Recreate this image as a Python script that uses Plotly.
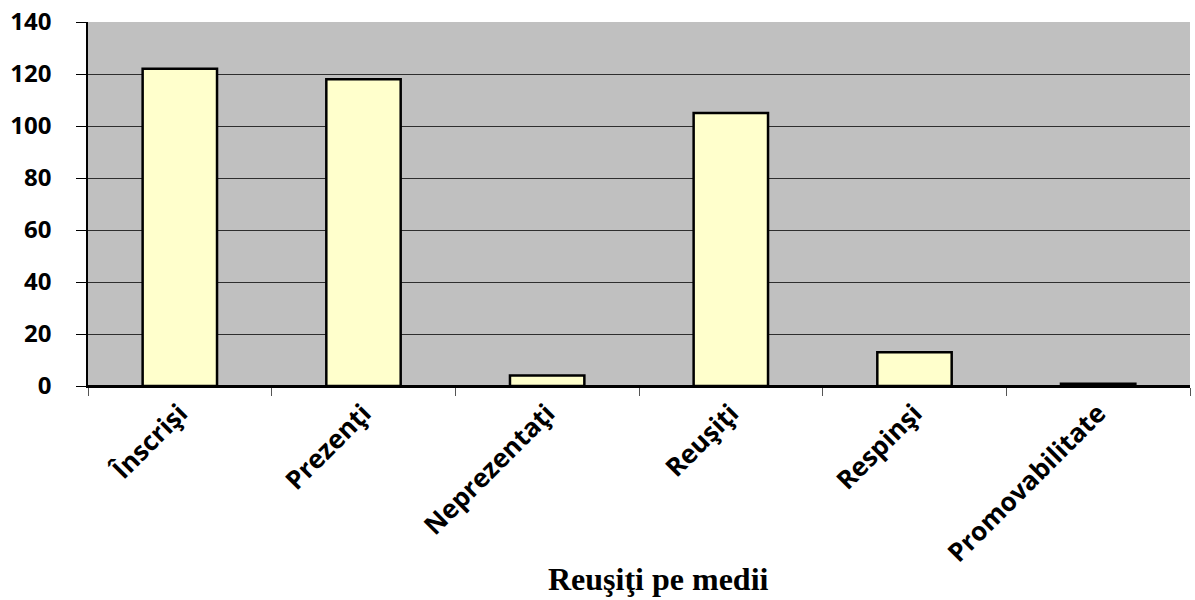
import plotly.graph_objects as go

categories = ["Înscrişi", "Prezenţi", "Neprezentaţi", "Reuşiţi", "Respinşi", "Promovabilitate"]
values = [122, 118, 4, 105, 13, 0.89]
y_ticks = [0, 20, 40, 60, 80, 100, 120, 140]
title_text = "Reuşiţi pe medii"

fig = go.Figure()
fig.add_trace(go.Bar(
    x=categories, y=values,
    marker=dict(color="#FFFFCC", line=dict(color="black", width=2.5)),
    width=0.405,
))

fig.update_layout(
    width=1195, height=600,
    margin=dict(l=88, r=5, t=22, b=214, autoexpand=False),
    paper_bgcolor="white",
    plot_bgcolor="#C0C0C0",
    showlegend=False,
    font=dict(family="Open Sans", color="black"),
    annotations=[dict(
        text="<b>" + title_text + "</b>",
        xref="paper", yref="paper", x=0.518, y=-0.585,
        xanchor="center", yanchor="bottom", showarrow=False,
        font=dict(family="Liberation Serif, Times New Roman, serif", size=32, color="black"),
    )],
)

fig.update_yaxes(
    range=[0, 140], tickvals=y_ticks, ticktext=[str(v) for v in y_ticks],
    automargin=False, ticklabeloverflow="allow",
    showgrid=True, gridcolor="#2e2e2e", gridwidth=1,
    showline=True, linecolor="black", linewidth=1.5,
    ticks="outside", ticklen=10, tickcolor="black", tickwidth=1,
    ticklabelstandoff=20,
    tickfont=dict(family="Open Sans", size=24, weight="bold", color="black"),
    zeroline=True, zerolinecolor="black", zerolinewidth=1.5,
)
fig.update_xaxes(
    automargin=False, ticklabeloverflow="allow",
    showline=True, linecolor="black", linewidth=1.5,
    ticks="outside", tickson="boundaries", ticklen=8, tickcolor="#555", tickwidth=1,
    tickangle=-45,
    tickfont=dict(family="Open Sans", size=26, weight="bold", color="black"),
    showgrid=False,
)

fig.write_html("out.html", config={"displayModeBar": False},
               post_script="document.body.style.margin='0';")
